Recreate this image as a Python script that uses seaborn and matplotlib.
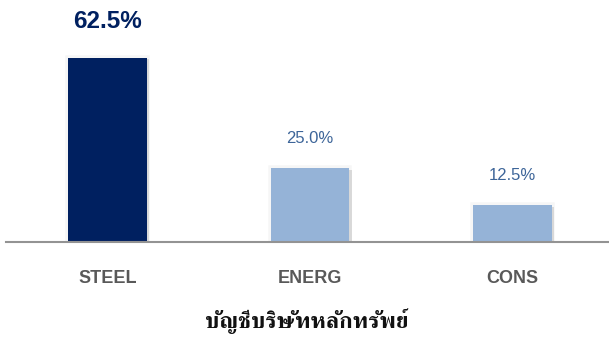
import matplotlib
matplotlib.use("Agg")
import matplotlib.pyplot as plt
import matplotlib.patheffects as pe
import seaborn as sns
import pandas as pd

categories = ["STEEL", "ENERG", "CONS"]
shares = [62.5, 25.0, 12.5]
value_labels = ["62.5%", "25.0%", "12.5%"]
title_text = "บัญชีบริษัทหลักทรัพย์"

NAVY = "#002060"
LIGHT = "#95B3D7"
LABEL_BLUE = "#3D6599"

df = pd.DataFrame({"sector": categories, "share": shares})

sns.set_theme(style="white")
plt.rcParams["font.family"] = ["Liberation Sans", "DejaVu Sans"]

fig = plt.figure(figsize=(6.09, 3.38), dpi=100)
ax = fig.add_axes([6.25 / 609, (338 - 242) / 338, 607.5 / 609, 242 / 338])

palette = {c: (NAVY if i == 0 else LIGHT) for i, c in enumerate(categories)}
sns.barplot(data=df, x="sector", y="share", hue="sector", palette=palette,
            width=0.39, legend=False, ax=ax, saturation=1)

# faint shadow around each bar
for bar in ax.patches:
    bar.set_linewidth(0)
    bar.set_path_effects([
        pe.Stroke(linewidth=4, foreground=(0, 0, 0, 0.035)),
        pe.SimplePatchShadow(offset=(1.5, -1.0), shadow_rgbFace="gray", alpha=0.25),
        pe.Normal(),
    ])

ax.set_xlim(-0.5, 2.5)
ax.set_ylim(0, 62.5 * 242 / 184)

for i, (v, lab) in enumerate(zip(shares, value_labels)):
    if i == 0:
        ax.annotate(lab, (i, v), xytext=(0, 26), textcoords="offset points",
                    ha="center", va="center", fontsize=17.5, fontweight="bold", color=NAVY)
    else:
        ax.annotate(lab, (i, v), xytext=(0, 21.5), textcoords="offset points",
                    ha="center", va="center", fontsize=12, color=LABEL_BLUE)

for s in ["top", "right", "left"]:
    ax.spines[s].set_visible(False)
ax.spines["bottom"].set_color("#939393")
ax.spines["bottom"].set_linewidth(1.5)
ax.spines["bottom"].set_zorder(5)
ax.set_yticks([])
ax.set_xlabel("")
ax.set_ylabel("")
ax.tick_params(axis="x", length=0, pad=20, labelsize=13, labelcolor="#595959")
for t in ax.get_xticklabels():
    t.set_fontweight("bold")

fig.text(307 / 609, 1 - 321 / 338, title_text, ha="center", va="center",
         fontsize=16.6, fontweight="bold", color="#111111",
         family=["FreeSerif", "Noto Serif Thai", "DejaVu Sans"])

fig.savefig("out.png", dpi=100, facecolor="white")
